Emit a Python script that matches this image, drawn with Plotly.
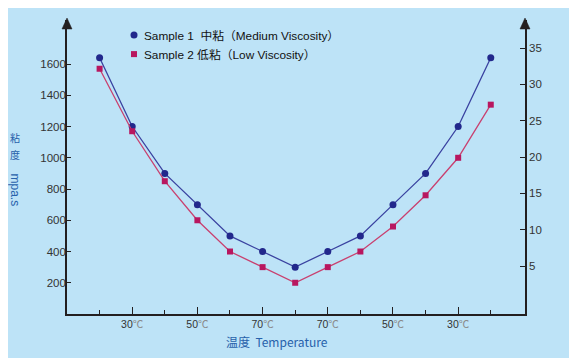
import plotly.graph_objects as go

# ---- data ----
x_index = list(range(13))
tick_positions = [1, 3, 5, 7, 9, 11]
tick_labels = ["30", "50", "70", "70", "50", "30"]
minor_positions = [0, 2, 4, 6, 8, 10, 12]
sample1_name = "Sample 1  中粘（Medium Viscosity）"
sample2_name = "Sample 2 低粘（Low Viscosity）"
sample1 = [1640, 1200, 900, 700, 500, 400, 300, 400, 500, 700, 900, 1200, 1640]
sample2 = [1570, 1170, 850, 600, 400, 300, 200, 300, 400, 560, 760, 1000, 1340]
left_ticks = [200, 400, 600, 800, 1000, 1200, 1400, 1600]
right_ticks = [5, 10, 15, 20, 25, 30, 35]

BG = "#bde3f7"
AX = "#231f20"
BLUE = "#22288c"
BLUE_LINE = "#3a42a0"
PINK = "#b8175f"
PINK_LINE = "#c9406f"
TITLE = "#2761ab"
LAT = "Liberation Sans, Arial, Noto Sans CJK SC, sans-serif"
CJK = "Noto Sans CJK SC, Liberation Sans, sans-serif"

fig = go.Figure()
fig.add_trace(go.Scatter(
    x=x_index, y=sample1, name=sample1_name, mode="lines+markers",
    line=dict(color=BLUE_LINE, width=1.3),
    marker=dict(symbol="circle", size=7, color=BLUE),
    showlegend=False, hoverinfo="skip"))
fig.add_trace(go.Scatter(
    x=x_index, y=sample2, name=sample2_name, mode="lines+markers",
    line=dict(color=PINK_LINE, width=1.3),
    marker=dict(symbol="square", size=6, color=PINK),
    showlegend=False, hoverinfo="skip"))
# empty trace so the right axis is drawn
fig.add_trace(go.Scatter(x=[], y=[], yaxis="y2", showlegend=False, hoverinfo="skip"))

ticktext = [f"{t}<span style='color:#8a8a8a'>℃</span>" for t in tick_labels]

# page body has an 8px default margin: figure is 8px smaller and shifted
fig.update_layout(
    width=569, height=350,
    paper_bgcolor=BG, plot_bgcolor=BG,
    margin=dict(l=59, r=52, t=12, b=44, autoexpand=False),
    xaxis=dict(
        range=[-1, 13.05], showgrid=False, zeroline=False,
        showline=True, linecolor=AX, linewidth=1.6,
        tickmode="array", tickvals=tick_positions, ticktext=ticktext,
        ticks="inside", ticklen=7, tickwidth=1.3, tickcolor=AX,
        tickfont=dict(family=LAT, size=10.5, color="#333333"),
        minor=dict(tickmode="array", tickvals=minor_positions, ticks="inside",
                   ticklen=4, tickwidth=1.3, tickcolor=AX),
        fixedrange=True,
    ),
    yaxis=dict(
        range=[0, 1882], showgrid=False, zeroline=False,
        showline=True, linecolor=AX, linewidth=1.6,
        tickmode="array", tickvals=left_ticks,
        ticks="inside", ticklen=4, tickwidth=1.3, tickcolor=AX,
        ticklabelstandoff=-3,
        tickfont=dict(family=LAT, size=11.5, color="#333333"),
        fixedrange=True,
    ),
    yaxis2=dict(
        overlaying="y", side="right", anchor="x",
        range=[-1.6, 38.86], showgrid=False, zeroline=False,
        showline=True, linecolor=AX, linewidth=1.6,
        tickmode="array", tickvals=right_ticks,
        ticks="inside", ticklen=5, tickwidth=1.3, tickcolor=AX,
        tickfont=dict(family=LAT, size=11.5, color="#333333"),
        fixedrange=True,
    ),
)

# arrowheads on the vertical axes
for xa in (0, 1):
    fig.add_shape(type="path", xref="paper", yref="paper",
                  xsizemode="pixel", ysizemode="pixel", xanchor=xa, yanchor=1,
                  path="M -5,-9 L 5,-9 L 0,2 Z",
                  fillcolor=AX, line=dict(color=AX, width=0.5))

# legend (manual)
fig.add_shape(type="circle", xref="paper", yref="paper",
              xsizemode="pixel", ysizemode="pixel", xanchor=0.1463, yanchor=0.949,
              x0=-3.5, x1=3.5, y0=-3.5, y1=3.5, fillcolor=BLUE, line=dict(width=0))
fig.add_shape(type="rect", xref="paper", yref="paper",
              xsizemode="pixel", ysizemode="pixel", xanchor=0.1463, yanchor=0.884,
              x0=-3, x1=3, y0=-3, y1=3, fillcolor=PINK, line=dict(width=0))
fig.add_annotation(text=sample1_name, xref="paper", yref="paper", x=0.164, y=0.947,
                   xanchor="left", yanchor="middle", showarrow=False,
                   font=dict(family=LAT, size=11.8, color="#111111"))
fig.add_annotation(text=sample2_name, xref="paper", yref="paper", x=0.164, y=0.882,
                   xanchor="left", yanchor="middle", showarrow=False,
                   font=dict(family=LAT, size=11.8, color="#111111"))

# axis titles
fig.add_annotation(text="温度  Temperature", xref="paper", yref="paper", x=0.4585, y=-0.092,
                   xanchor="center", yanchor="middle", showarrow=False,
                   font=dict(family=CJK, size=12, color=TITLE))
for ch, yy in (("粘", 0.602), ("度", 0.541)):
    fig.add_annotation(text=ch, xref="paper", yref="paper", x=-0.1135, y=yy,
                       xanchor="center", yanchor="middle", showarrow=False,
                       font=dict(family=CJK, size=10, color=TITLE))
fig.add_annotation(text="mpa.s", xref="paper", yref="paper", x=-0.1125, y=0.422,
                   xanchor="center", yanchor="middle", showarrow=False, textangle=90,
                   font=dict(family=LAT, size=12, color=TITLE))

fig.write_html("out.html", config={"displayModeBar": False})
